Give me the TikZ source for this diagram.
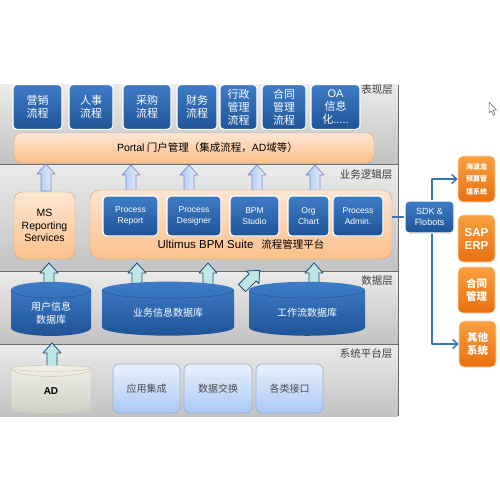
\documentclass[tikz,border=0pt]{standalone}
\usepackage{fontspec}
\setmainfont{Noto Sans CJK SC}
\newfontfamily\latfont{Liberation Sans}
\usetikzlibrary{shapes.geometric,shadows,arrows.meta}
\definecolor{bluetop}{HTML}{3F7CC8}
\definecolor{bluebot}{HTML}{1F5496}
\definecolor{peachtop}{HTML}{FDE6D2}
\definecolor{peachbot}{HTML}{FDC08A}
\definecolor{linkblue}{HTML}{3A75B8}
\definecolor{paletop}{HTML}{EAF1FC}
\definecolor{palebot}{HTML}{A9C8F5}
\definecolor{tealfill}{HTML}{BFE6E6}
\definecolor{tealline}{HTML}{1F4E79}
\definecolor{tiletop}{HTML}{F9A040}
\definecolor{tilebot}{HTML}{E8700F}
\definecolor{adtop}{HTML}{F0EFE8}
\definecolor{adbot}{HTML}{CFCEC4}
\tikzset{
	bluebox/.style={rectangle,rounded corners=4pt,draw=white,line width=1.2pt,top color=bluetop,bottom color=bluebot,text=white,inner sep=0pt,align=center,font=\fontsize{11}{13}\selectfont,drop shadow={opacity=0.35,shadow xshift=0.4pt,shadow yshift=-0.8pt}},
	peachbox/.style={rectangle,rounded corners=7pt,draw=orange!40!gray!70,line width=0.4pt,top color=peachtop,bottom color=peachbot,inner sep=0pt,align=center},
	tile/.style={rectangle,rounded corners=5pt,draw=orange!30,line width=0.6pt,top color=tiletop,bottom color=tilebot,text=white,inner sep=0pt,align=center,font=\bfseries\fontsize{10.5}{13}\selectfont},
	palebox/.style={rectangle,rounded corners=6pt,draw=palebot!70!gray,line width=0.7pt,top color=paletop,bottom color=palebot,text=black!70,inner sep=0pt,font=\fontsize{10}{12}\selectfont},
	dbase/.style={cylinder,shape border rotate=90,inner sep=0pt,align=center,font=\fontsize{10}{13}\selectfont},
	paleup/.style={draw=blue!35!gray!70,left color=palebot,right color=paletop,line width=0.7pt},
	tealup/.style={draw=tealline,fill=tealfill,line width=0.8pt},
	layername/.style={text=black!75,inner sep=0pt,font=\fontsize{10.5}{12}\selectfont},
	link/.style={draw=linkblue,line width=1.4pt},
	blockup/.pic={
		\path[pic actions] (-5,0)--(-5,-\len+10)--(-9,-\len+10)--(0,-\len)--(9,-\len+10)--(5,-\len+10)--(5,0)--cycle;
	}
}
\begin{document}
\begin{tikzpicture}[x=1pt,y=-1pt,line join=round]
	\useasboundingbox (0,0) rectangle (500,500);
	% layers
	\foreach \ya/\yb in {85/164,165/271,272/344,345/416}{
		\shade[top color=gray!16,bottom color=gray!48] (0,\ya) rectangle (398,\yb);
	}
	\foreach \yb in {164.5,271.5,344.5}{
		\draw[gray!85!black,line width=0.9pt] (0,\yb)--(398,\yb);
	}
	\draw[gray!85!black,line width=0.7pt] (398,85)--(398,416);
	\node[layername] (lay1) at (377,90) {表现层};
	\node[layername] (lay2) at (366,175) {业务逻辑层};
	\node[layername] (lay3) at (377,281) {数据层};
	\node[layername] (lay4) at (366,354) {系统平台层};
	% top row
	\foreach \nm/\cx/\bw/\txt in {yx/37.5/49/营销\\流程,rs/91/44/人事\\流程,cg/147/48/采购\\流程,cw/197/40/财务\\流程,xz/238.5/37/行政\\管理\\流程,ht/284/44/合同\\管理\\流程,oa/335.5/49/{\latfont OA}\\信息\\化{\latfont .....}}{
		\node[bluebox,minimum width=\bw pt,minimum height=45pt] (\nm) at (\cx,107) {\txt};
	}
	\node[peachbox,minimum width=360pt,minimum height=30pt,font=\fontsize{10.5}{12}\selectfont] (portal) at (194,148) {\hspace*{27pt}{\latfont Portal} 门户管理（集成流程，{\latfont AD}域等）};
	% logic layer
	\foreach \cx/\len in {46/27,131/26,189/26,257/26,315/26}{
		\path (\cx,191) pic[paleup]{blockup};
	}
	\node[peachbox,rounded corners=8pt,minimum width=61pt,minimum height=67pt,font=\latfont\fontsize{10.5}{12.5}\selectfont] (ms) at (44.5,225.5) {MS\\Reporting\\Services};
	\node[peachbox,rounded corners=10pt,minimum width=302pt,minimum height=69pt] (suite) at (241,224.5) {};
	\node[inner sep=0pt,font=\fontsize{10.5}{12}\selectfont] (suitename) at (241,244) {{\latfont\fontsize{11.5}{12}\selectfont Ultimus BPM Suite}\hspace{8pt}流程管理平台};
	\foreach \nm/\cx/\bw/\txt in {pr/130.5/55/Process\\Report,pd/194/54/Process\\Designer,bs/254.5/49/BPM\\Studio,oc/308.5/41/Org\\Chart,pa/358/50/Process\\Admin.}{
		\node[bluebox,minimum width=\bw pt,minimum height=40pt,font=\latfont\fontsize{8.5}{10.5}\selectfont] (\nm) at (\cx,216) {\txt};
	}
	% data layer
	\foreach \cx/\cy/\len in {49/288/25,137/284/21,208/288/25,314/288/25,52/368/25}{
		\path (\cx,\cy) pic[tealup]{blockup};
	}
	\def\len{25}
	\path (242,288) pic[tealup,rotate=-45]{blockup};
	\foreach \nm/\cx/\bw/\txt in {yh/51/80/用户信息\\数据库,yw/168/132/业务信息数据库,gz/307/116/工作流数据库}{
		\pgfmathsetmacro{\asp}{32/\bw}
		\node[dbase,shape aspect=\asp,minimum width=\bw pt,minimum height=54pt,top color=bluetop,bottom color=bluebot,text=white] (\nm) at (\cx,313) {\txt};
		\draw[bluebot,line width=0.4pt] (\nm.before top) arc[start angle=180,end angle=0,x radius=\bw/2,y radius=8];
	}
	% platform layer
	\node[dbase,shape aspect=0.4,minimum width=80pt,minimum height=48pt,draw=adbot!80!brown,top color=adtop,bottom color=adbot,font=\latfont\bfseries\fontsize{10}{12}\selectfont] (ad) at (51,391) {AD};
	\draw[adbot!80!brown,line width=0.4pt] (ad.before top) arc[start angle=180,end angle=0,x radius=40,y radius=8];
	\foreach \nm/\cx/\bw/\txt in {yy/146.5/67/应用集成,sj/218/68/数据交换,gl/289.5/67/各类接口}{
		\node[palebox,minimum width=\bw pt,minimum height=49pt] (\nm) at (\cx,388.5) {\txt};
	}
	% right side
	\node[bluebox,minimum width=49pt,minimum height=32pt,font=\latfont\fontsize{9}{11}\selectfont] (sdk) at (429.5,217) {SDK \&\\Flobots};
	\node[tile,minimum width=37pt,minimum height=46pt,font=\bfseries\fontsize{7}{12.5}\selectfont] (hbl) at (476.5,179) {海波龙\\预算管\\理系统};
	\node[tile,minimum width=37pt,minimum height=47pt,font=\latfont\bfseries\fontsize{11.5}{13}\selectfont] (sap) at (476.5,238.5) {SAP\\ERP};
	\node[tile,minimum width=37pt,minimum height=46pt] (hetong) at (476.5,290) {合同\\管理};
	\node[tile,minimum width=37pt,minimum height=46pt] (qita) at (477.5,344) {其他\\系统};
	\draw[link] (suite.east|-sdk.west)--(sdk.west);
	\draw[link,-{Straight Barb[length=5pt,width=9pt]}] ([xshift=2.5pt]sdk.north) |- (hbl.west);
	\draw[link,-{Straight Barb[length=5pt,width=9pt]}] ([xshift=2.5pt]sdk.south) |- (qita.west);
	% pointer
	\draw[gray!80!black,fill=white,line width=0.5pt] (489,102)--(489,113)--(491.5,111)--(493.5,115.5)--(495,114.5)--(493.2,110.5)--(496.5,110)--cycle;
\end{tikzpicture}
\end{document}
